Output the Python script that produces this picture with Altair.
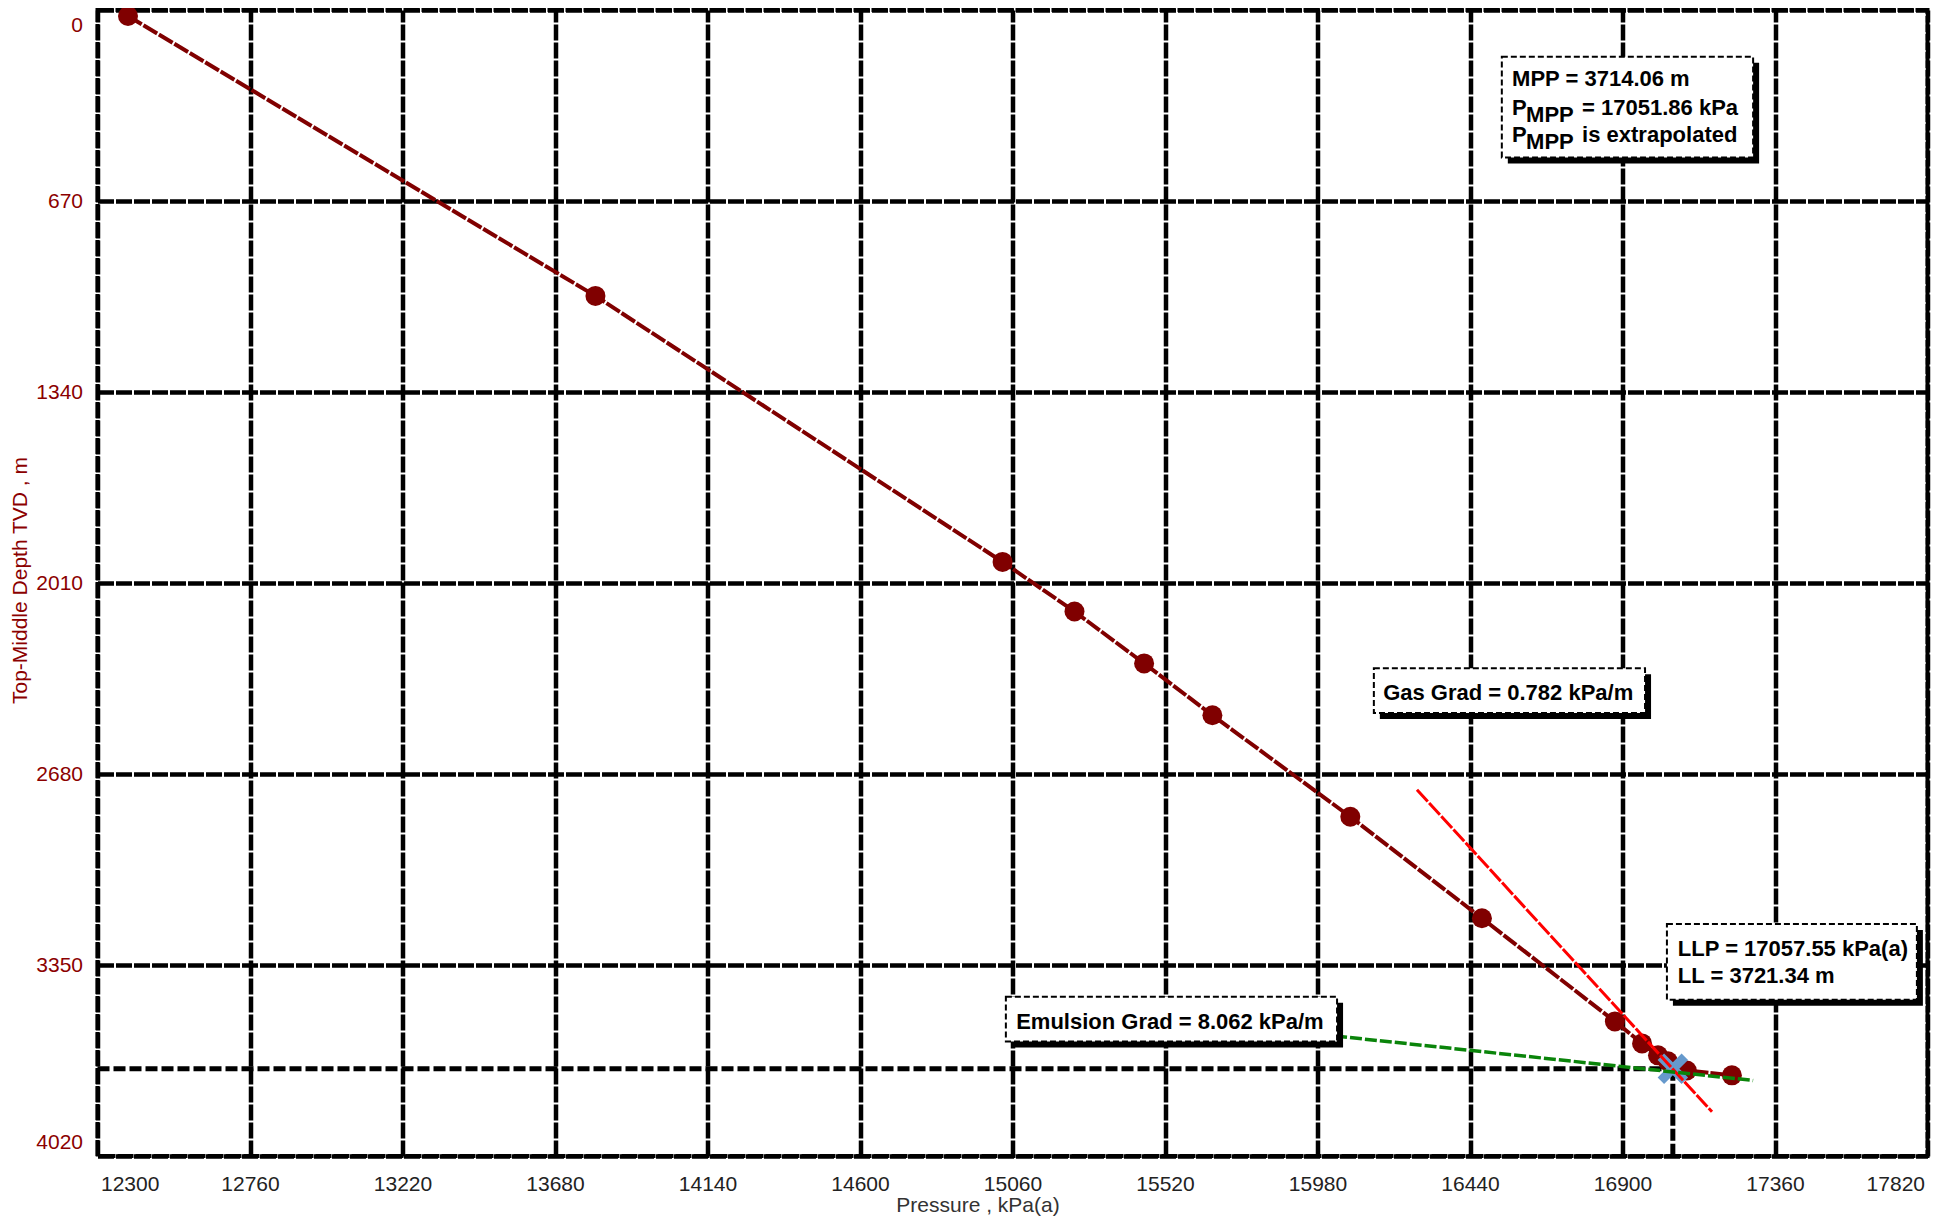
import altair as alt
import pandas as pd

# ---- data ----
pressure = [12392, 13802, 15030, 15247, 15457, 15663, 16079, 16476, 16877, 16959, 17007, 17037, 17094, 17230]
depth = [21, 1003, 1936, 2110, 2292, 2474, 2830, 3186, 3548, 3625, 3667, 3688, 3720, 3737]

x_ticks = [12300, 12760, 13220, 13680, 14140, 14600, 15060, 15520, 15980, 16440, 16900, 17360, 17820]
y_ticks = [0, 670, 1340, 2010, 2680, 3350, 4020]

gas_p = [16280, 17170]
gas_d = [2735, 3865]
emul_p = [16033, 17294]
emul_d = [3599, 3755]

mpp_p = 17051.86
mpp_d = 3714.06

# annotation boxes (data coordinates)
box_p1 = [16536, 16150, 17034, 15040]
box_p2 = [17294, 16968, 17788, 16039]
box_d1 = [164, 2309, 3206, 3461]
box_d2 = [517, 2466, 3472, 3618]

# annotation texts
main_text = ["MPP = 3714.06 m", "P", "P", "Gas Grad = 0.782 kPa/m",
             "LLP = 17057.55 kPa(a)", "LL = 3721.34 m", "Emulsion Grad = 8.062 kPa/m"]
main_p = [16567, 16567, 16567, 16178, 17067, 17067, 15071]
main_d = [243, 344, 439, 2396, 3293, 3387, 3550]
sub_text = ["MPP", "MPP"]
sub_p = [16567, 16567]
sub_d = [344, 439]
after_text = ["= 17051.86 kPa", "is extrapolated"]
after_p = [16567, 16567]
after_d = [344, 439]

FONT = "Liberation Sans"
MAROON = "#800000"

xs = alt.Scale(domain=[12300, 17820], nice=False, zero=False)
ys = alt.Scale(domain=[0, 4020], reverse=True, nice=False, zero=False)

xaxis = alt.Axis(values=x_ticks, title="Pressure , kPa(a)", labelColor="#222222",
                 titleColor="#333333", labelFlush=True, labelFlushOffset=-3,
                 labelPadding=17, titleX=880, titleY=38, titleBaseline="top",
                 titleAlign="center", format="d")
yaxis = alt.Axis(values=y_ticks, title="Top-Middle Depth TVD , m", labelColor="#8B0000",
                 titleColor="#8B0000", labelFlush=True, labelFlushOffset=-4,
                 labelPadding=15, titleX=-77, titleY=570, titleAngle=-90,
                 titleAlign="center", titleBaseline="middle", format="d")


def X(f="P"):
    return alt.X(f"{f}:Q", scale=xs, axis=xaxis)


def Y(f="D"):
    return alt.Y(f"{f}:Q", scale=ys, axis=yaxis)


pts = pd.DataFrame({"P": pressure, "D": depth, "i": list(range(len(pressure)))})
gas = pd.DataFrame({"P": gas_p, "D": gas_d})
emul = pd.DataFrame({"P": emul_p, "D": emul_d})
hline = pd.DataFrame({"P": [12300], "P2": [mpp_p], "D": [mpp_d]})
vline = pd.DataFrame({"P": [mpp_p], "D": [mpp_d], "D2": [4020]})
marker = pd.DataFrame({"P": [mpp_p], "D": [mpp_d]})
boxes = pd.DataFrame({"P": box_p1, "P2": box_p2, "D": box_d1, "D2": box_d2})
mtext = pd.DataFrame({"P": main_p, "D": main_d, "t": main_text})
stext = pd.DataFrame({"P": sub_p, "D": sub_d, "t": sub_text})
atext = pd.DataFrame({"P": after_p, "D": after_d, "t": after_text})

l_hline = alt.Chart(hline).mark_rule(color="black", strokeWidth=5, strokeDash=[12, 4]).encode(
    x=X(), x2="P2:Q", y=Y())
l_vline = alt.Chart(vline).mark_rule(color="black", strokeWidth=5, strokeDash=[12, 3]).encode(
    x=X(), y=Y(), y2="D2:Q")
l_line = alt.Chart(pts).mark_line(color=MAROON, strokeWidth=4, strokeDash=[16, 2]).encode(
    x=X(), y=Y(), order="i:Q")
l_pts = alt.Chart(pts).mark_circle(color=MAROON, size=400, opacity=1).encode(x=X(), y=Y())
cross_path = ("M-0.27,-1L0.27,-1L0.27,-0.27L1,-0.27L1,0.27L0.27,0.27L0.27,1L-0.27,1"
              "L-0.27,0.27L-1,0.27L-1,-0.27L-0.27,-0.27Z")
l_mark = alt.Chart(marker).mark_point(shape=cross_path, angle=45, filled=True, size=1150,
                                      color="#6699CC", opacity=1).encode(x=X(), y=Y())
l_gas = alt.Chart(gas).mark_line(color="#FF0000", strokeWidth=3, strokeDash=[16, 2]).encode(x=X(), y=Y())
l_emul = alt.Chart(emul).mark_line(color="#0A840A", strokeWidth=3.5, strokeDash=[12, 3]).encode(x=X(), y=Y())

l_shadow = alt.Chart(boxes).mark_rect(color="black", opacity=1, xOffset=6, x2Offset=6,
                                      yOffset=6, y2Offset=6).encode(x=X(), x2="P2:Q", y=Y(), y2="D2:Q")
l_box = alt.Chart(boxes).mark_rect(fill="white", stroke="black", strokeWidth=2,
                                   strokeDash=[6, 3], opacity=1).encode(x=X(), x2="P2:Q", y=Y(), y2="D2:Q")

tkw = dict(font=FONT, fontSize=22, fontWeight="bold", color="black", align="left", baseline="middle")
l_mtext = alt.Chart(mtext).mark_text(**tkw).encode(x=X(), y=Y(), text="t:N")
l_stext = alt.Chart(stext).mark_text(dx=14, dy=7, **tkw).encode(x=X(), y=Y(), text="t:N")
l_atext = alt.Chart(atext).mark_text(dx=70, **tkw).encode(x=X(), y=Y(), text="t:N")

chart = alt.layer(
    l_hline, l_vline, l_line, l_pts, l_mark, l_gas, l_emul,
    l_shadow, l_box, l_mtext, l_stext, l_atext
).properties(
    width=1830, height=1146,
    autosize=alt.AutoSizeParams(type="none"),
    padding={"left": 89.5, "top": 2, "right": 10, "bottom": 61},
).configure_view(
    stroke="black", strokeWidth=4, strokeDash=[16, 2]
).configure_axis(
    grid=True, gridColor="black", gridWidth=4.5, gridDash=[16, 2], gridOpacity=1,
    domain=False, ticks=False, tickSize=0,
    labelFont=FONT, labelFontSize=21, titleFont=FONT, titleFontSize=21,
    titleFontWeight="normal",
)

chart.save("out.html", embed_options={"renderer": "svg", "actions": False})
